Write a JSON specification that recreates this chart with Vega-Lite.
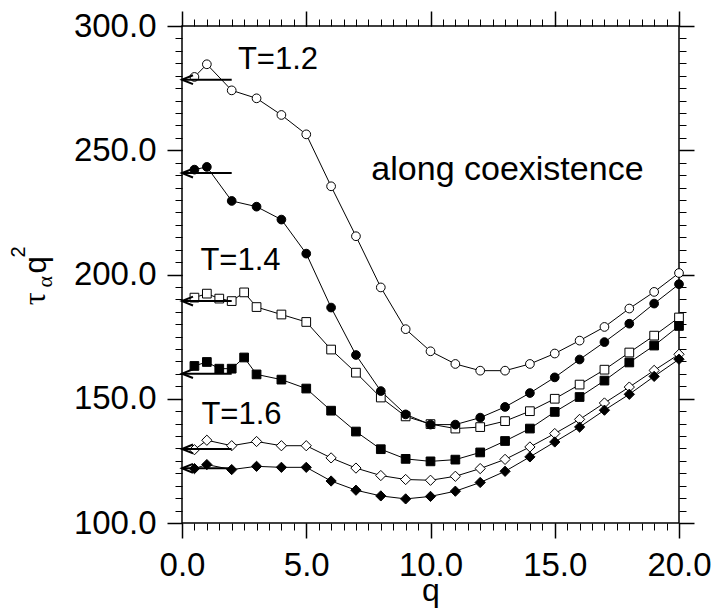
{
  "$schema": "https://vega.github.io/schema/vega-lite/v6.json",
  "width": 497,
  "height": 497,
  "autosize": {"type": "none"},
  "padding": {"left": 182, "top": 26, "right": 37, "bottom": 85},
  "background": "white",
  "config": {
    "view": {"stroke": "black", "strokeWidth": 1.5},
    "axis": {"domain": false, "grid": false, "tickColor": "black", "labelColor": "black", "labelFont": "Liberation Sans", "labelFontSize": 33, "labelFlush": false, "labelOverlap": false, "labelBound": false, "titleColor": "black"}
  },
  "resolve": {"axis": {"x": "independent", "y": "independent"}},
  "datasets": {
    "pts": [
      {"s": "c_open", "q": 0.5, "v": 279.5}, {"s": "c_open", "q": 1, "v": 284.6}, {"s": "c_open", "q": 2, "v": 274.1}, {"s": "c_open", "q": 3, "v": 270.9}, {"s": "c_open", "q": 4, "v": 264.2}, {"s": "c_open", "q": 5, "v": 256.4}, {"s": "c_open", "q": 6, "v": 235.5}, {"s": "c_open", "q": 7, "v": 215.4}, {"s": "c_open", "q": 8, "v": 194.8}, {"s": "c_open", "q": 9, "v": 178.0}, {"s": "c_open", "q": 10, "v": 169.1}, {"s": "c_open", "q": 11, "v": 164.0}, {"s": "c_open", "q": 12, "v": 161.3}, {"s": "c_open", "q": 13, "v": 161.3}, {"s": "c_open", "q": 14, "v": 164.0}, {"s": "c_open", "q": 15, "v": 168.2}, {"s": "c_open", "q": 16, "v": 173.4}, {"s": "c_open", "q": 17, "v": 178.9}, {"s": "c_open", "q": 18, "v": 186.3}, {"s": "c_open", "q": 19, "v": 193.0}, {"s": "c_open", "q": 20, "v": 200.6},
      {"s": "s_open", "q": 0.5, "v": 190.7}, {"s": "s_open", "q": 1, "v": 192.3}, {"s": "s_open", "q": 1.5, "v": 190.3}, {"s": "s_open", "q": 2, "v": 189.3}, {"s": "s_open", "q": 2.5, "v": 192.8}, {"s": "s_open", "q": 3, "v": 186.9}, {"s": "s_open", "q": 4, "v": 183.9}, {"s": "s_open", "q": 5, "v": 180.9}, {"s": "s_open", "q": 6, "v": 169.8}, {"s": "s_open", "q": 7, "v": 160.5}, {"s": "s_open", "q": 8, "v": 150.5}, {"s": "s_open", "q": 9, "v": 142.9}, {"s": "s_open", "q": 10, "v": 139.8}, {"s": "s_open", "q": 11, "v": 138.0}, {"s": "s_open", "q": 12, "v": 138.6}, {"s": "s_open", "q": 13, "v": 141.0}, {"s": "s_open", "q": 14, "v": 145.0}, {"s": "s_open", "q": 15, "v": 150.0}, {"s": "s_open", "q": 16, "v": 155.7}, {"s": "s_open", "q": 17, "v": 161.7}, {"s": "s_open", "q": 18, "v": 168.6}, {"s": "s_open", "q": 19, "v": 175.4}, {"s": "s_open", "q": 20, "v": 182.7},
      {"s": "c_fill", "q": 0.5, "v": 242.2}, {"s": "c_fill", "q": 1, "v": 243.3}, {"s": "c_fill", "q": 2, "v": 229.6}, {"s": "c_fill", "q": 3, "v": 227.3}, {"s": "c_fill", "q": 4, "v": 222.1}, {"s": "c_fill", "q": 5, "v": 208.4}, {"s": "c_fill", "q": 6, "v": 186.7}, {"s": "c_fill", "q": 7, "v": 167.6}, {"s": "c_fill", "q": 8, "v": 153.1}, {"s": "c_fill", "q": 9, "v": 143.7}, {"s": "c_fill", "q": 10, "v": 139.6}, {"s": "c_fill", "q": 11, "v": 139.6}, {"s": "c_fill", "q": 12, "v": 142.4}, {"s": "c_fill", "q": 13, "v": 146.7}, {"s": "c_fill", "q": 14, "v": 152.3}, {"s": "c_fill", "q": 15, "v": 158.6}, {"s": "c_fill", "q": 16, "v": 165.8}, {"s": "c_fill", "q": 17, "v": 172.8}, {"s": "c_fill", "q": 18, "v": 180.2}, {"s": "c_fill", "q": 19, "v": 188.3}, {"s": "c_fill", "q": 20, "v": 196.1},
      {"s": "s_fill", "q": 0.5, "v": 163.2}, {"s": "s_fill", "q": 1, "v": 164.8}, {"s": "s_fill", "q": 1.5, "v": 162.1}, {"s": "s_fill", "q": 2, "v": 162.1}, {"s": "s_fill", "q": 2.5, "v": 166.6}, {"s": "s_fill", "q": 3, "v": 159.8}, {"s": "s_fill", "q": 4, "v": 157.7}, {"s": "s_fill", "q": 5, "v": 154.1}, {"s": "s_fill", "q": 6, "v": 145.2}, {"s": "s_fill", "q": 7, "v": 136.8}, {"s": "s_fill", "q": 8, "v": 129.7}, {"s": "s_fill", "q": 9, "v": 125.8}, {"s": "s_fill", "q": 10, "v": 124.8}, {"s": "s_fill", "q": 11, "v": 125.5}, {"s": "s_fill", "q": 12, "v": 128.4}, {"s": "s_fill", "q": 13, "v": 133.0}, {"s": "s_fill", "q": 14, "v": 138.0}, {"s": "s_fill", "q": 15, "v": 144.7}, {"s": "s_fill", "q": 16, "v": 150.7}, {"s": "s_fill", "q": 17, "v": 157.3}, {"s": "s_fill", "q": 18, "v": 164.6}, {"s": "s_fill", "q": 19, "v": 171.4}, {"s": "s_fill", "q": 20, "v": 179.3},
      {"s": "d_open", "q": 0.5, "v": 129.5}, {"s": "d_open", "q": 1, "v": 133.3}, {"s": "d_open", "q": 2, "v": 131.1}, {"s": "d_open", "q": 3, "v": 132.8}, {"s": "d_open", "q": 4, "v": 131.1}, {"s": "d_open", "q": 5, "v": 131.1}, {"s": "d_open", "q": 6, "v": 126.2}, {"s": "d_open", "q": 7, "v": 122.1}, {"s": "d_open", "q": 8, "v": 119.1}, {"s": "d_open", "q": 9, "v": 117.5}, {"s": "d_open", "q": 10, "v": 117.2}, {"s": "d_open", "q": 11, "v": 118.8}, {"s": "d_open", "q": 12, "v": 121.9}, {"s": "d_open", "q": 13, "v": 125.6}, {"s": "d_open", "q": 14, "v": 130.6}, {"s": "d_open", "q": 15, "v": 136.0}, {"s": "d_open", "q": 16, "v": 141.7}, {"s": "d_open", "q": 17, "v": 148.3}, {"s": "d_open", "q": 18, "v": 154.7}, {"s": "d_open", "q": 19, "v": 161.4}, {"s": "d_open", "q": 20, "v": 167.9},
      {"s": "d_fill", "q": 0.5, "v": 121.9}, {"s": "d_fill", "q": 1, "v": 123.5}, {"s": "d_fill", "q": 2, "v": 121.5}, {"s": "d_fill", "q": 3, "v": 122.8}, {"s": "d_fill", "q": 4, "v": 122.4}, {"s": "d_fill", "q": 5, "v": 122.4}, {"s": "d_fill", "q": 6, "v": 116.9}, {"s": "d_fill", "q": 7, "v": 113.2}, {"s": "d_fill", "q": 8, "v": 110.9}, {"s": "d_fill", "q": 9, "v": 109.7}, {"s": "d_fill", "q": 10, "v": 110.7}, {"s": "d_fill", "q": 11, "v": 112.8}, {"s": "d_fill", "q": 12, "v": 116.3}, {"s": "d_fill", "q": 13, "v": 120.8}, {"s": "d_fill", "q": 14, "v": 126.6}, {"s": "d_fill", "q": 15, "v": 132.6}, {"s": "d_fill", "q": 16, "v": 138.6}, {"s": "d_fill", "q": 17, "v": 145.4}, {"s": "d_fill", "q": 18, "v": 151.8}, {"s": "d_fill", "q": 19, "v": 159.0}, {"s": "d_fill", "q": 20, "v": 165.9}
    ],
    "arrows": [
      {"s": "c_open", "q0": 0, "q1": 2, "v": 278.4},
      {"s": "c_fill", "q0": 0, "q1": 2, "v": 240.8},
      {"s": "s_open", "q0": 0, "q1": 2, "v": 189.3},
      {"s": "s_fill", "q0": 0, "q1": 2, "v": 160.1},
      {"s": "d_open", "q0": 0, "q1": 2, "v": 129.8},
      {"s": "d_fill", "q0": 0, "q1": 2, "v": 122.0}
    ],
    "notes": [
      {"label": "T=1.2", "q": 2.25, "v": 282.5},
      {"label": "T=1.4", "q": 0.74, "v": 202.0},
      {"label": "T=1.6", "q": 0.78, "v": 140.0}
    ],
    "notes2": [
      {"label": "along coexistence", "q": 7.62, "v": 237.9}
    ]
  },
  "layer": [
    {
      "data": {"name": "pts"},
      "mark": {"type": "line", "color": "black", "strokeWidth": 1},
      "encoding": {
        "x": {"field": "q", "type": "quantitative", "scale": {"domain": [0, 20], "nice": false, "zero": false},
              "axis": {"orient": "bottom", "values": [0, 5, 10, 15, 20], "format": ".1f", "tickSize": 15, "tickWidth": 1.5, "labelPadding": 11, "title": "q", "titleFont": "Liberation Sans", "titleFontSize": 32, "titleFontWeight": "normal", "titleBaseline": "alphabetic", "titleY": 77}},
        "y": {"field": "v", "type": "quantitative", "scale": {"domain": [100, 300], "nice": false, "zero": false},
              "axis": {"orient": "left", "values": [100, 150, 200, 250, 300], "format": ".1f", "tickSize": 15, "tickWidth": 1.5, "labelPadding": 11, "title": null}},
        "detail": {"field": "s", "type": "nominal"}
      }
    },
    {
      "data": {"name": "pts"},
      "mark": {"type": "point", "filled": true, "stroke": "black", "strokeWidth": 1, "opacity": 1},
      "encoding": {
        "x": {"field": "q", "type": "quantitative", "scale": {"domain": [0, 20], "nice": false, "zero": false},
              "axis": {"orient": "bottom", "values": [0,0.5,1,1.5,2,2.5,3,3.5,4,4.5,5,5.5,6,6.5,7,7.5,8,8.5,9,9.5,10,10.5,11,11.5,12,12.5,13,13.5,14,14.5,15,15.5,16,16.5,17,17.5,18,18.5,19,19.5,20], "tickSize": 7, "tickWidth": 1, "labels": false, "title": null}},
        "y": {"field": "v", "type": "quantitative", "scale": {"domain": [100, 300], "nice": false, "zero": false},
              "axis": {"orient": "left", "values": [100,105,110,115,120,125,130,135,140,145,150,155,160,165,170,175,180,185,190,195,200,205,210,215,220,225,230,235,240,245,250,255,260,265,270,275,280,285,290,295,300], "tickSize": 7, "tickWidth": 1, "labels": false, "title": null}},
        "shape": {"field": "s", "type": "nominal", "scale": {"domain": ["c_open", "s_open", "c_fill", "s_fill", "d_open", "d_fill"], "range": ["circle", "square", "circle", "square", "diamond", "diamond"]}, "legend": null},
        "fill": {"field": "s", "type": "nominal", "scale": {"domain": ["c_open", "s_open", "c_fill", "s_fill", "d_open", "d_fill"], "range": ["white", "white", "black", "black", "white", "black"]}, "legend": null},
        "size": {"condition": {"test": "indexof(datum.s, 'd_') == 0", "value": 105}, "value": 76}
      }
    },
    {
      "data": {"name": "arrows"},
      "mark": {"type": "rule", "color": "black", "strokeWidth": 2},
      "encoding": {
        "x": {"field": "q0", "type": "quantitative", "scale": {"domain": [0, 20], "nice": false, "zero": false},
              "axis": {"orient": "top", "values": [0, 5, 10, 15, 20], "tickSize": 15, "tickWidth": 1.5, "labels": false, "title": null}},
        "x2": {"field": "q1"},
        "y": {"field": "v", "type": "quantitative", "scale": {"domain": [100, 300], "nice": false, "zero": false},
              "axis": {"orient": "right", "values": [100, 150, 200, 250, 300], "tickSize": 15, "tickWidth": 1.5, "labels": false, "title": null}}
      }
    },
    {
      "data": {"name": "arrows"},
      "mark": {"type": "point", "shape": "M 2 -0.8 L 0 0 L 2 0.8", "size": 121, "filled": false, "stroke": "black", "strokeWidth": 2, "opacity": 1},
      "encoding": {
        "x": {"field": "q0", "type": "quantitative", "scale": {"domain": [0, 20], "nice": false, "zero": false},
              "axis": {"orient": "top", "values": [0,0.5,1,1.5,2,2.5,3,3.5,4,4.5,5,5.5,6,6.5,7,7.5,8,8.5,9,9.5,10,10.5,11,11.5,12,12.5,13,13.5,14,14.5,15,15.5,16,16.5,17,17.5,18,18.5,19,19.5,20], "tickSize": 7, "tickWidth": 1, "labels": false, "title": null}},
        "y": {"field": "v", "type": "quantitative", "scale": {"domain": [100, 300], "nice": false, "zero": false},
              "axis": {"orient": "right", "values": [100,105,110,115,120,125,130,135,140,145,150,155,160,165,170,175,180,185,190,195,200,205,210,215,220,225,230,235,240,245,250,255,260,265,270,275,280,285,290,295,300], "tickSize": 7, "tickWidth": 1, "labels": false, "title": null}}
      }
    },
    {
      "data": {"name": "notes"},
      "mark": {"type": "text", "font": "Liberation Sans", "fontSize": 31, "align": "left", "baseline": "alphabetic", "fill": "black"},
      "encoding": {
        "x": {"field": "q", "type": "quantitative", "scale": {"domain": [0, 20], "nice": false, "zero": false}, "axis": null},
        "y": {"field": "v", "type": "quantitative", "scale": {"domain": [100, 300], "nice": false, "zero": false}, "axis": null},
        "text": {"field": "label", "type": "nominal"}
      }
    },
    {
      "data": {"name": "notes2"},
      "mark": {"type": "text", "font": "Liberation Sans", "fontSize": 34, "align": "left", "baseline": "alphabetic", "fill": "black"},
      "encoding": {
        "x": {"field": "q", "type": "quantitative", "scale": {"domain": [0, 20], "nice": false, "zero": false}, "axis": null},
        "y": {"field": "v", "type": "quantitative", "scale": {"domain": [100, 300], "nice": false, "zero": false}, "axis": null},
        "text": {"field": "label", "type": "nominal"}
      }
    },
    {
      "data": {"values": [{"t": "τ", "q": -5.53, "v": 187.6}]},
      "mark": {"type": "text", "font": "Liberation Serif", "fontSize": 32, "align": "left", "baseline": "alphabetic", "angle": 270, "fill": "black"},
      "encoding": {
        "x": {"field": "q", "type": "quantitative", "scale": {"domain": [0, 20], "nice": false, "zero": false}, "axis": null},
        "y": {"field": "v", "type": "quantitative", "scale": {"domain": [100, 300], "nice": false, "zero": false}, "axis": null},
        "text": {"field": "t", "type": "nominal"}
      }
    },
    {
      "data": {"values": [{"t": "α", "q": -5.22, "v": 194.8}]},
      "mark": {"type": "text", "font": "Liberation Serif", "fontSize": 22, "align": "left", "baseline": "alphabetic", "angle": 270, "fill": "black"},
      "encoding": {
        "x": {"field": "q", "type": "quantitative", "scale": {"domain": [0, 20], "nice": false, "zero": false}, "axis": null},
        "y": {"field": "v", "type": "quantitative", "scale": {"domain": [100, 300], "nice": false, "zero": false}, "axis": null},
        "text": {"field": "t", "type": "nominal"}
      }
    },
    {
      "data": {"values": [{"t": "q", "q": -5.48, "v": 200.4}]},
      "mark": {"type": "text", "font": "Liberation Sans", "fontSize": 31, "align": "left", "baseline": "alphabetic", "angle": 270, "fill": "black"},
      "encoding": {
        "x": {"field": "q", "type": "quantitative", "scale": {"domain": [0, 20], "nice": false, "zero": false}, "axis": null},
        "y": {"field": "v", "type": "quantitative", "scale": {"domain": [100, 300], "nice": false, "zero": false}, "axis": null},
        "text": {"field": "t", "type": "nominal"}
      }
    },
    {
      "data": {"values": [{"t": "2", "q": -6.33, "v": 206.8}]},
      "mark": {"type": "text", "font": "Liberation Sans", "fontSize": 20, "align": "left", "baseline": "alphabetic", "angle": 270, "fill": "black"},
      "encoding": {
        "x": {"field": "q", "type": "quantitative", "scale": {"domain": [0, 20], "nice": false, "zero": false}, "axis": null},
        "y": {"field": "v", "type": "quantitative", "scale": {"domain": [100, 300], "nice": false, "zero": false}, "axis": null},
        "text": {"field": "t", "type": "nominal"}
      }
    }
  ]
}
